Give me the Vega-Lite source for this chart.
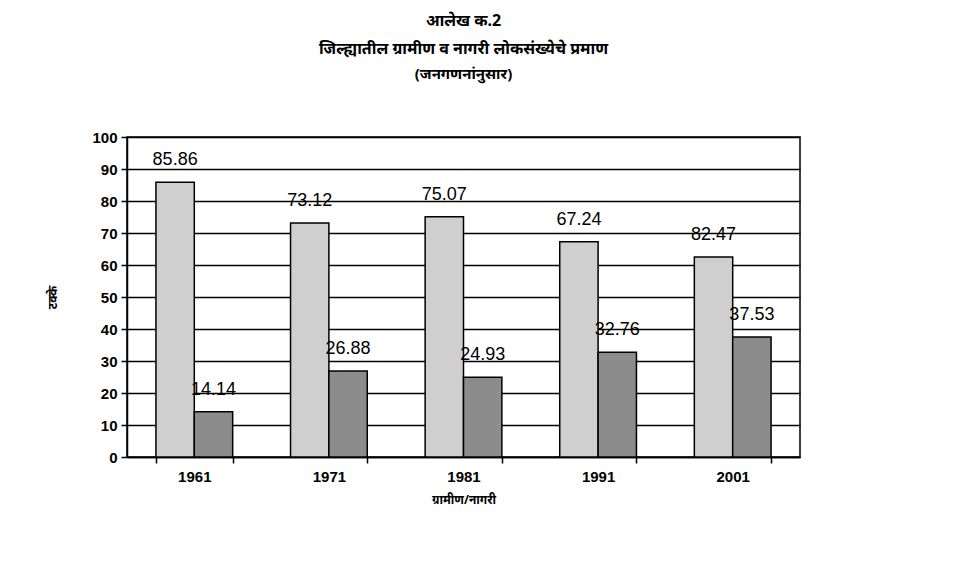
{
  "$schema": "https://vega.github.io/schema/vega-lite/v6.json",
  "autosize": "none",
  "width": 673,
  "height": 320,
  "padding": {"left": 127, "top": 137, "right": 168, "bottom": 115},
  "background": "white",
  "title": {
    "text": ["आलेख क.2", "जिल्ह्यातील ग्रामीण व नागरी लोकसंख्येचे प्रमाण"],
    "subtitle": "(जनगणनांनुसार)",
    "anchor": "middle",
    "font": "Noto Sans",
    "fontSize": 16,
    "fontWeight": "bold",
    "lineHeight": 28,
    "subtitleFont": "Noto Sans",
    "subtitleFontSize": 15,
    "subtitleFontWeight": "bold",
    "subtitleColor": "black",
    "subtitlePadding": 10,
    "color": "black",
    "offset": 48
  },
  "data": {
    "values": [
      {"year": "1961", "type": "ग्रामीण", "value": 85.86, "label": "85.86"},
      {"year": "1961", "type": "नागरी", "value": 14.14, "label": "14.14"},
      {"year": "1971", "type": "ग्रामीण", "value": 73.12, "label": "73.12"},
      {"year": "1971", "type": "नागरी", "value": 26.88, "label": "26.88"},
      {"year": "1981", "type": "ग्रामीण", "value": 75.07, "label": "75.07"},
      {"year": "1981", "type": "नागरी", "value": 24.93, "label": "24.93"},
      {"year": "1991", "type": "ग्रामीण", "value": 67.24, "label": "67.24"},
      {"year": "1991", "type": "नागरी", "value": 32.76, "label": "32.76"},
      {"year": "2001", "type": "ग्रामीण", "value": 62.47, "label": "82.47"},
      {"year": "2001", "type": "नागरी", "value": 37.53, "label": "37.53"}
    ]
  },
  "encoding": {
    "x": {
      "field": "year", "type": "nominal",
      "scale": {"paddingInner": 0.43, "paddingOuter": 0.215},
      "axis": {
        "title": "ग्रामीण/नागरी",
        "titleFont": "Noto Sans", "titleFontSize": 12, "titleFontWeight": "bold", "titleColor": "black",
        "titlePadding": 10,
        "labelAngle": 0, "labelFont": "Liberation Sans", "labelFontSize": 15, "labelFontWeight": "bold", "labelColor": "black",
        "labelPadding": 6,
        "tickBand": "extent", "tickColor": "black", "tickSize": 6, "tickWidth": 1.5,
        "domainColor": "black", "domainWidth": 1.5
      }
    },
    "xOffset": {"field": "type", "type": "nominal", "sort": ["ग्रामीण", "नागरी"]},
    "y": {
      "field": "value", "type": "quantitative",
      "scale": {"domain": [0, 100]},
      "axis": {
        "title": "टक्के",
        "titleFont": "Noto Sans", "titleFontSize": 12, "titleFontWeight": "bold", "titleColor": "black",
        "titlePadding": 32,
        "values": [0,10,20,30,40,50,60,70,80,90,100],
        "labelFont": "Liberation Sans", "labelFontSize": 15, "labelFontWeight": "bold", "labelColor": "black",
        "labelPadding": 4,
        "tickColor": "black", "tickSize": 6, "tickWidth": 1.5,
        "grid": true, "gridColor": "black", "gridWidth": 1.5, "gridOpacity": 1,
        "domainColor": "black", "domainWidth": 1.5
      }
    }
  },
  "layer": [
    {
      "mark": {"type": "bar", "stroke": "black", "strokeWidth": 1.5},
      "encoding": {
        "color": {
          "field": "type", "type": "nominal",
          "scale": {"domain": ["ग्रामीण", "नागरी"], "range": ["#cfcfcf", "#8c8c8c"]},
          "legend": null
        }
      }
    },
    {
      "mark": {"type": "text", "dy": -13, "baseline": "bottom", "font": "Liberation Sans", "fontSize": 18, "color": "black"},
      "encoding": {"text": {"field": "label"}}
    }
  ],
  "config": {
    "view": {"stroke": "black", "strokeWidth": 1.5}
  }
}
